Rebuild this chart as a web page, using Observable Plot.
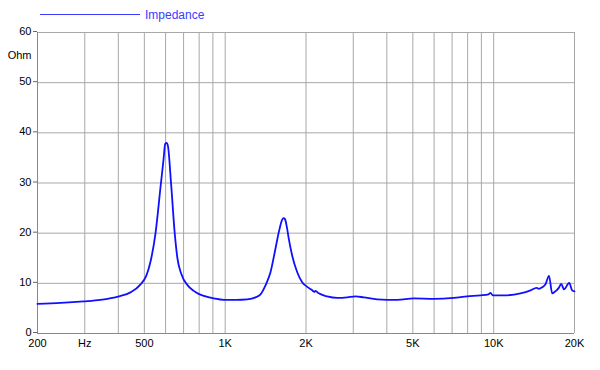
<!DOCTYPE html>
<html>
<head>
<meta charset="utf-8">
<script src="https://cdn.jsdelivr.net/npm/d3@7"></script>
<script src="https://cdn.jsdelivr.net/npm/@observablehq/plot@0.6"></script>
<style>
  body { margin: 0; background: #fff; font-family: "Liberation Sans", Arial, sans-serif; }
  #legend { position: relative; height: 24px; width: 600px; }
  #legend .sw { position: absolute; left: 40px; top: 14px; width: 100px; height: 0; border-top: 1.5px solid #3b3bff; }
  #legend .lb { position: absolute; left: 145px; top: 7px; font-size: 12px; color: #3b3bff; line-height: 16px; }
</style>
</head>
<body>
<div id="legend"><span class="sw"></span><span class="lb">Impedance</span></div>
<div id="chart"></div>
<script>
const freqs = [200,244,297,343,402,444,484,509,527,550,576,589,598,605,612,629,649,664,686,725,764,796,833,907,988,1100,1208,1297,1354,1413,1475,1539,1584,1631,1649,1670,1700,1725,1777,1855,1936,2021,2110,2150,2170,2232,2398,2614,2848,3058,3284,3684,4373,5042,5984,7104,7970,8933,9564,9731,9925,10908,12586,13717,14440,14724,15162,15596,16072,16520,17140,17480,17842,18276,19112,19608,20000];
const ohms  = [5.9,6.1,6.4,6.7,7.4,8.2,9.8,11.6,14.3,19.9,29.8,34.5,37.8,38.0,37.4,29.8,19.9,15.0,11.9,9.6,8.5,7.9,7.5,7.0,6.7,6.7,6.8,7.2,7.8,9.6,12.2,16.9,20.2,22.7,23.0,22.8,21.0,18.9,15.5,12.2,10.2,9.3,8.6,8.3,8.5,8.0,7.4,7.1,7.2,7.4,7.2,6.8,6.7,7.0,6.9,7.1,7.4,7.6,7.8,8.1,7.6,7.6,8.0,8.6,9.1,8.9,9.2,9.8,11.5,8.0,8.6,9.1,9.9,8.8,10.1,8.6,8.4];

const gridFreqs = [200,300,400,500,600,700,800,900,1000,2000,3000,4000,5000,6000,7000,8000,9000,10000,20000];
const xTickValues = [200,300,500,1000,2000,5000,10000,20000];
const xTickLabels = ["200","Hz","500","1K","2K","5K","10K","20K"];
const yTickValues = [0,10,20,30,40,50,60];
const yUnitLabel = "Ohm";
const yUnitPos = 55.4;

const data = freqs.map((f, i) => ({f, z: ohms[i]}));
const xLabels = xTickValues.map((v, i) => ({v, t: xTickLabels[i]}));

const chart = Plot.plot({
  width: 600,
  height: 346,
  marginTop: 8,
  marginLeft: 37,
  marginRight: 26,
  marginBottom: 37,
  style: {fontFamily: "'Liberation Sans', Arial, sans-serif", fontSize: "11px", color: "#000", background: "#fff"},
  x: {type: "log", domain: [200, 20000], axis: null},
  y: {domain: [0, 60], axis: null},
  marks: [
    Plot.gridX(gridFreqs, {stroke: "#a8a8a8", strokeOpacity: 1}),
    Plot.gridY(yTickValues, {stroke: "#a8a8a8", strokeOpacity: 1}),
    Plot.ruleY([0], {stroke: "#888"}),
    Plot.ruleX([200], {stroke: "#888"}),
    Plot.text(xLabels, {x: "v", text: "t", frameAnchor: "bottom", lineAnchor: "top", dy: 6, fill: "#000", fontSize: 11}),
    Plot.axisY(yTickValues, {tickSize: 4, tickPadding: 2, label: null, stroke: "#666", fill: "#000", dy: -1}),
    Plot.text([yUnitLabel], {y: [yUnitPos], text: d => d, frameAnchor: "left", textAnchor: "end", dx: -6, fill: "#000", fontSize: 11}),
    Plot.line(data, {x: "f", y: "z", stroke: "#1010ff", strokeWidth: 1.8, curve: "monotone-x"})
  ]
});
document.getElementById("chart").appendChild(chart);
</script>
</body>
</html>
